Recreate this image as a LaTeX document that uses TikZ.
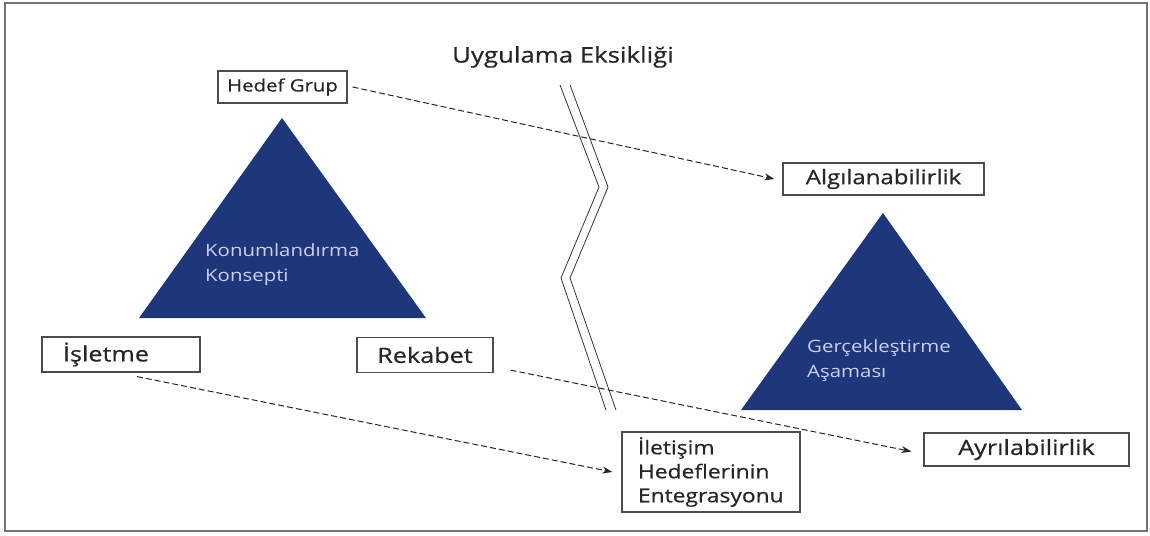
\documentclass[tikz,border=0pt]{standalone}
\usepackage{fontspec}
\setmainfont{Open Sans}[FakeStretch=1.2]
\newfontfamily\labelfont{Open Sans}[FakeStretch=1.2,FakeBold=0.6]
\usetikzlibrary{arrows.meta}
\definecolor{navy}{RGB}{30,54,122}
\definecolor{pale}{RGB}{205,208,240}
\definecolor{ink}{RGB}{38,38,38}
\tikzset{
  box/.style={draw=black!70, line width=1.2pt, rectangle, inner sep=0pt, text=ink},
  flow/.style={draw=black!85, line width=1pt, dash pattern=on 6pt off 3pt,
               -{Stealth[length=10pt,width=7pt]}},
  wedge/.style={fill=navy},
  wedgetext/.style={text=pale, align=left, inner sep=0pt, font=\fontsize{17}{25}\selectfont},
  gap/.style={draw=black!80, line width=0.8pt},
}
\begin{document}
\begin{tikzpicture}[x=1pt,y=-1pt]
\useasboundingbox (0,0) rectangle (1150,535);
\draw[black!55, line width=1.5pt] (5,3) rectangle (1147,531);

% title over the break
\node[text=ink, font=\labelfont\fontsize{21.5}{25}\selectfont] (title) at (563,57) {Uygulama Eksikliği};

% positioning triangle
\fill[wedge] (139,318) -- (426,318) -- (282,118) -- cycle;
\node[wedgetext, anchor=west] (konum) at (205,265) {Konumlandırma\\Konsepti};

% realisation triangle
\fill[wedge] (741,410) -- (1022,410) -- (883,213) -- cycle;
\node[wedgetext, anchor=west] (gercek) at (807,361) {Gerçekleştirme\\Aşaması};

% the break: double zigzag line
\draw[gap] (560,85) -- (599,187) -- (561,278) -- (606,410);
\draw[gap] (570,85) -- (608,187) -- (570,278) -- (616,410);

% boxes
\node[box, minimum width=129pt, minimum height=32pt, font=\labelfont\fontsize{17}{20}\selectfont] (hedef) at (282.5,87) {Hedef Grup};
\node[box, minimum height=35pt, text width=116pt, inner xsep=21pt, align=left, font=\labelfont\fontsize{21}{24}\selectfont] (isl) at (121,354.5) {İşletme};
\node[box, minimum width=136pt, minimum height=35pt, font=\labelfont\fontsize{21}{24}\selectfont] (rek) at (425,355) {Rekabet};
\node[box, minimum width=201pt, minimum height=32pt, font=\labelfont\fontsize{20}{24}\selectfont] (alg) at (883.5,179) {Algılanabilirlik};
\node[box, minimum width=205pt, minimum height=33pt, font=\labelfont\fontsize{21}{24}\selectfont] (ayr) at (1026.5,449.5) {Ayrılabilirlik};
\node[box, minimum height=80pt, text width=146pt, inner xsep=16pt, align=left, font=\labelfont\fontsize{19}{24}\selectfont] (ilet) at (711,472) {İletişim\\Hedeflerinin\\Entegrasyonu};

% dashed connectors
\draw[flow] ([xshift=5pt]hedef.east) -- ([xshift=-8pt]alg.west);
\draw[flow] ([xshift=16pt,yshift=-4pt]isl.south) -- ([xshift=-9pt]ilet.west);
\draw[flow] ([xshift=17pt,yshift=3pt]rek.south east) -- ([xshift=-12pt,yshift=-2pt]ayr.west);
\end{tikzpicture}
\end{document}
